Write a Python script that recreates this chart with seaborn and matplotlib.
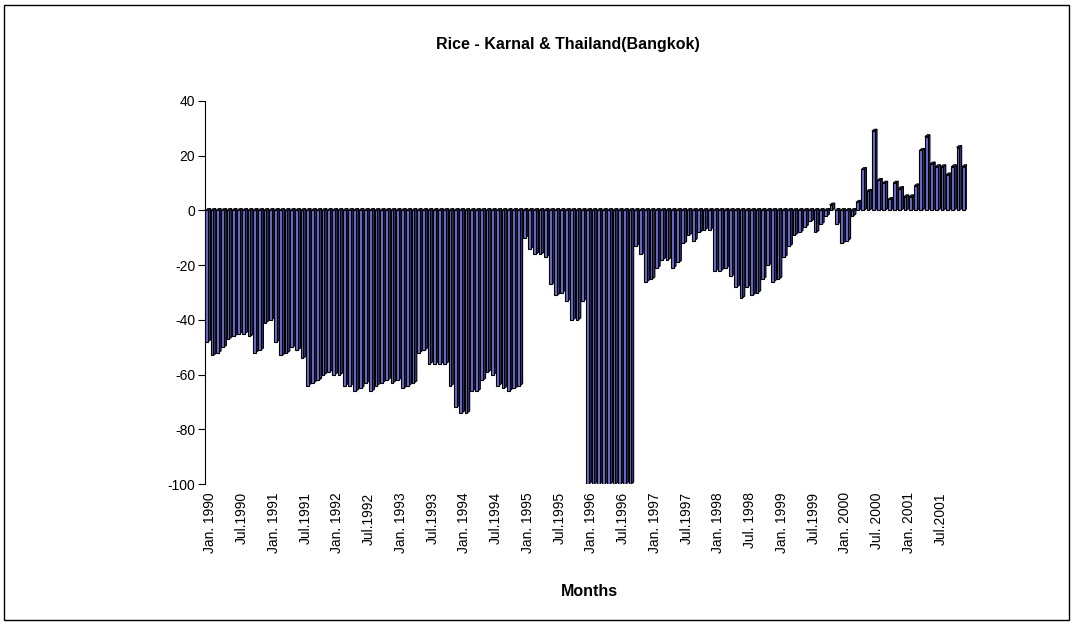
import matplotlib
matplotlib.use('Agg')
import matplotlib.pyplot as plt
from matplotlib.patches import Polygon, Rectangle
import seaborn as sns
import pandas as pd

# monthly values, Jan 1990 - Dec 2001
v1990 = [-48, -53, -52, -50, -47, -46, -45, -45, -46, -52, -51, -41]
v1991 = [-40, -48, -53, -52, -50, -51, -54, -64, -63, -62, -60, -59]
v1992 = [-60, -60, -64, -64, -66, -65, -63, -66, -64, -63, -62, -63]
v1993 = [-62, -65, -64, -63, -52, -51, -56, -56, -56, -56, -64, -72]
v1994 = [-74, -74, -66, -66, -62, -59, -60, -64, -65, -66, -65, -64]
v1995 = [-10, -14, -16, -16, -17, -27, -31, -30, -33, -40, -40, -33]
v1996 = [-100, -100, -100, -100, -100, -100, -100, -100, -100, -13, -16, -26]
v1997 = [-25, -21, -18, -18, -21, -19, -12, -9, -11, -8, -7, -7]
v1998 = [-22, -22, -21, -24, -28, -32, -28, -31, -30, -25, -20, -26]
v1999 = [-25, -17, -13, -9, -8, -6, -4, -8, -5, -2, 2, -5]
v2000 = [-12, -11, -2, 3, 15, 7, 29, 11, 10, 4, 10, 8]
v2001 = [5, 5, 9, 22, 27, 17, 16, 16, 13, 16, 23, 16]

years = list(range(1990, 2002))
month_names = ["Jan", "Feb", "Mar", "Apr", "May", "Jun",
               "Jul", "Aug", "Sep", "Oct", "Nov", "Dec"]

tick_labels = ["Jan. 1990", "Jul.1990", "Jan. 1991", "Jul.1991", "Jan. 1992", "Jul.1992",
               "Jan. 1993", "Jul.1993", "Jan. 1994", "Jul.1994", "Jan. 1995", "Jul.1995",
               "Jan. 1996", "Jul.1996", "Jan. 1997", "Jul.1997", "Jan. 1998", "Jul. 1998",
               "Jan. 1999", "Jul.1999", "Jan. 2000", "Jul. 2000", "Jan. 2001", "Jul.2001"]

values = v1990 + v1991 + v1992 + v1993 + v1994 + v1995 + v1996 + v1997 + v1998 + v1999 + v2000 + v2001
months = [f"{m} {y}" for y in years for m in month_names]
df = pd.DataFrame({"month": months, "diff": values})

sns.set_style("white")
plt.rcParams['font.family'] = ['Liberation Sans', 'DejaVu Sans']
plt.rcParams['axes.unicode_minus'] = False
plt.rcParams['text.color'] = 'black'
plt.rcParams['xtick.color'] = 'black'
plt.rcParams['ytick.color'] = 'black'

W, H = 1073, 624
fig = plt.figure(figsize=(W / 100, H / 100), dpi=100)
ax = fig.add_axes([205 / W, 1 - 484 / H, (967 - 205) / W, (484 - 101) / H])

front = "#6c6cd2"
side = "#34346e"
sns.barplot(data=df, x="month", y="diff", color=front, saturation=1,
            width=0.52, edgecolor="black", linewidth=0.8, ax=ax)

# fake 3d depth, like the excel original
dx, dy = 0.45, 0.7
for p in list(ax.patches):
    x0, y0 = p.get_x(), p.get_y()
    w, h = p.get_width(), p.get_height()
    top, bot = max(y0, y0 + h), min(y0, y0 + h)
    p.set_zorder(3)
    ax.add_patch(Polygon([(x0 + w, bot), (x0 + w + dx, bot + dy), (x0 + w + dx, top + dy), (x0 + w, top)],
                         closed=True, facecolor=side, edgecolor="black", linewidth=0.8, zorder=2))
    ax.add_patch(Polygon([(x0, top), (x0 + dx, top + dy), (x0 + w + dx, top + dy), (x0 + w, top)],
                         closed=True, facecolor=side, edgecolor="black", linewidth=0.6, zorder=2))

ax.set_ylim(-100, 40)
ax.set_xlim(-0.33, 143.72)
ax.set_yticks([-100, -80, -60, -40, -20, 0, 20, 40])
# labels sit a little right of their bar, as in the original
ax.set_xticks([i + 0.7 for i in range(0, 144, 6)])
ax.set_xticklabels(tick_labels, rotation=90, fontsize=10)
ax.set_xlabel("")
ax.set_ylabel("")
ax.tick_params(axis='x', length=0, pad=6)
ax.tick_params(axis='y', direction='out', length=5, width=0.8, labelsize=10, pad=2, left=True)
for s in ["top", "right", "bottom"]:
    ax.spines[s].set_visible(False)
ax.spines["left"].set_color("black")
ax.spines["left"].set_linewidth(0.8)

fig.text(568 / W, 1 - 45 / H, "Rice - Karnal & Thailand(Bangkok)", ha="center", va="center",
         fontsize=11.5, fontweight="bold")
fig.text(589 / W, 1 - 592 / H, "Months", ha="center", va="center", fontsize=11.5, fontweight="bold")

fig.add_artist(Rectangle((4 / W, 4 / H), 1065 / W, 615 / H, transform=fig.transFigure,
                         fill=False, edgecolor="black", linewidth=1))

fig.savefig("out.png", dpi=100)
